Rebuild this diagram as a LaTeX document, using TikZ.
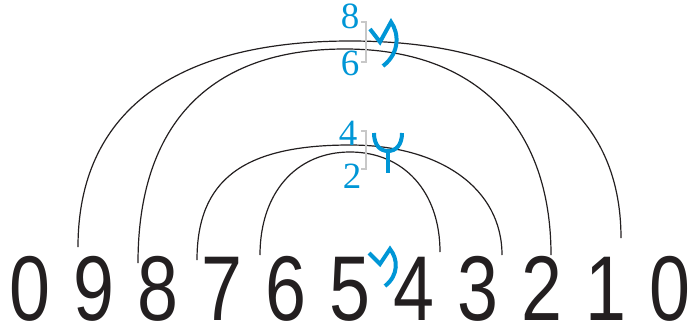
\documentclass[tikz,border=0pt]{standalone}
\usepackage{fontspec}
\newfontfamily\digfont{Liberation Sans}
\newfontfamily\serfont{Liberation Serif}
\definecolor{mblue}{RGB}{0,150,214}
\definecolor{mgray}{RGB}{200,200,200}
\definecolor{mblack}{RGB}{35,31,32}
\newcommand{\dg}[1]{\scalebox{0.8}[1]{#1}}
\tikzset{
  digit/.style={font=\digfont\fontsize{92}{92}\selectfont, anchor=base, inner sep=0pt, text=mblack},
  bdigit/.style={font=\serfont\fontsize{37}{37}\selectfont, anchor=base, inner sep=0pt, text=mblue},
  arc/.style={line width=1.2pt, mblack},
  glyph/.style={line width=4pt, mblue},
  brk/.style={line width=2.2pt, mgray}
}
\begin{document}
\begin{tikzpicture}[x=1pt,y=-1pt]
\useasboundingbox (0,0) rectangle (690,330);
% digits
\node[digit] (d0) at (30,320) {\dg{0}};
\node[digit] (d9) at (94,320) {\dg{9}};
\node[digit] (d8) at (158,320) {\dg{8}};
\node[digit] (d7) at (222,320) {\dg{7}};
\node[digit] (d6) at (286,320) {\dg{6}};
\node[digit] (d5) at (350,320) {\dg{5}};
\node[digit] (d4) at (414,320) {\dg{4}};
\node[digit] (d3) at (478,320) {\dg{3}};
\node[digit] (d2) at (542,320) {\dg{2}};
\node[digit] (d1) at (606,320) {\dg{1}};
\node[digit] (d00) at (670,320) {\dg{0}};
% arc end points
\coordinate (a1L) at (78,247);  \coordinate (a1T) at (350,41);  \coordinate (a1R) at (621,238);
\coordinate (a2L) at (138,263); \coordinate (a2T) at (345,49);  \coordinate (a2R) at (551,255);
\coordinate (a3L) at (197,260); \coordinate (a3T) at (350,145); \coordinate (a3R) at (502,255);
\coordinate (a4L) at (260,255); \coordinate (a4T) at (350,152); \coordinate (a4R) at (440,252);
% arcs
\draw[arc] (a1L) .. controls (78,113) and (173,41) .. (a1T) .. controls (526,41) and (621,110) .. (a1R);
\draw[arc] (a2L) .. controls (138,124) and (210,49) .. (a2T) .. controls (475,49) and (551,125) .. (a2R);
\draw[arc] (a3L) .. controls (197,180) and (243,145) .. (a3T) .. controls (441,145) and (502,189) .. (a3R);
\draw[arc] (a4L) .. controls (260,193) and (296,152) .. (a4T) .. controls (404,152) and (440,192) .. (a4R);
% blue serif digits
\node[bdigit] (b8) at (350,28.5) {8};
\node[bdigit] (b6) at (350,75) {6};
\node[bdigit] (b4) at (348,145) {4};
\node[bdigit] (b2) at (352,188) {2};
% gray brackets
\draw[brk] (361,22) -- (366,22) -- (366,62) -- (361,62);
\draw[brk] (361,131) -- (366,131) -- (366,169) -- (361,169);
% blue marks
\draw[glyph, line join=miter] (370,29) -- (380,42) -- (391,22) .. controls (399,33) and (400,53) .. (383,66);
\draw[glyph] (374,133) .. controls (374,145) and (380,151) .. (388,151) .. controls (396,151) and (402,145) .. (402,133);
\draw[glyph] (388,150) -- (388,173);
\draw[glyph, line join=miter] (369,253) -- (380,264) -- (390,249) .. controls (398,259) and (399,275) .. (385,286);
\end{tikzpicture}
\end{document}
